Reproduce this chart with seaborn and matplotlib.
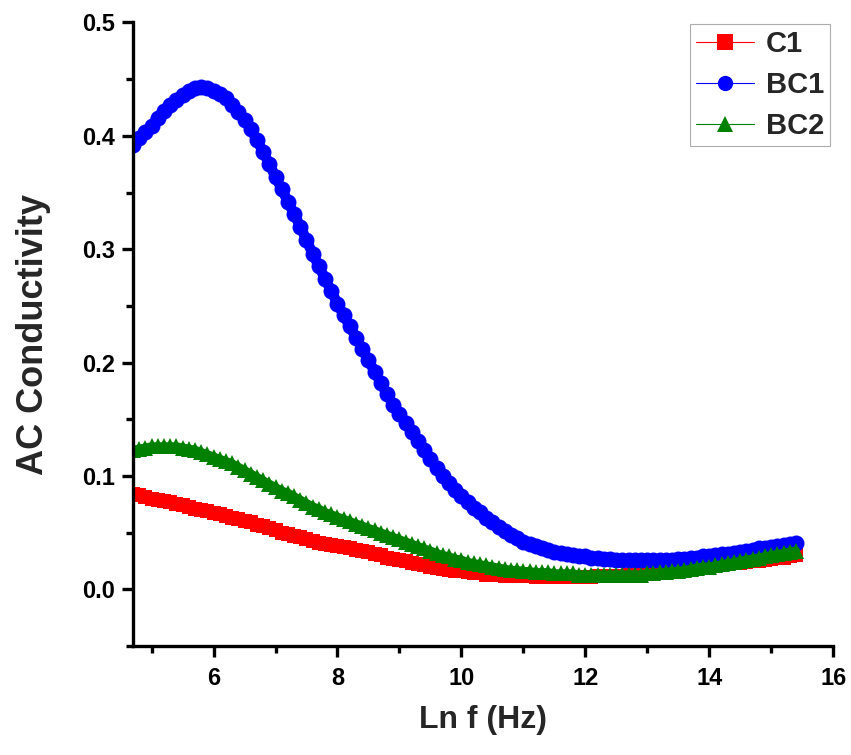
import matplotlib
matplotlib.use("Agg")
import matplotlib.pyplot as plt
import seaborn as sns
import pandas as pd
from matplotlib.ticker import MultipleLocator
from matplotlib.lines import Line2D

ln_f = [4.7, 4.8, 4.9, 5.0, 5.1, 5.2, 5.3, 5.4, 5.5, 5.6, 5.7, 5.8, 5.9, 6.0, 6.1, 6.2, 6.3, 6.4, 6.5, 6.6,
        6.7, 6.8, 6.9, 7.0, 7.1, 7.2, 7.3, 7.4, 7.5, 7.6, 7.7, 7.8, 7.9, 8.0, 8.1, 8.2, 8.3, 8.4, 8.5, 8.6,
        8.7, 8.8, 8.9, 9.0, 9.1, 9.2, 9.3, 9.4, 9.5, 9.6, 9.7, 9.8, 9.9, 10.0, 10.1, 10.2, 10.3, 10.4, 10.5, 10.6,
        10.7, 10.8, 10.9, 11.0, 11.1, 11.2, 11.3, 11.4, 11.5, 11.6, 11.7, 11.8, 11.9, 12.0, 12.1, 12.2, 12.3, 12.4, 12.5, 12.6,
        12.7, 12.8, 12.9, 13.0, 13.1, 13.2, 13.3, 13.4, 13.5, 13.6, 13.7, 13.8, 13.9, 14.0, 14.1, 14.2, 14.3, 14.4, 14.5, 14.6,
        14.7, 14.8, 14.9, 15.0, 15.1, 15.2, 15.3, 15.4]

c1 = [0.084, 0.083, 0.081, 0.080, 0.079, 0.078, 0.077, 0.075, 0.074, 0.073, 0.071, 0.070, 0.069, 0.067, 0.066, 0.065, 0.063, 0.062, 0.060, 0.059,
      0.057, 0.056, 0.054, 0.052, 0.050, 0.049, 0.047, 0.046, 0.044, 0.043, 0.041, 0.040, 0.039, 0.038, 0.037, 0.036, 0.035, 0.034, 0.033, 0.031,
      0.030, 0.028, 0.027, 0.026, 0.025, 0.023, 0.022, 0.021, 0.020, 0.019, 0.018, 0.017, 0.016, 0.016, 0.015, 0.014, 0.014, 0.013, 0.013, 0.013,
      0.012, 0.012, 0.012, 0.012, 0.012, 0.011, 0.011, 0.011, 0.011, 0.011, 0.011, 0.011, 0.011, 0.011, 0.011, 0.012, 0.012, 0.012, 0.012, 0.012,
      0.013, 0.013, 0.014, 0.014, 0.015, 0.015, 0.016, 0.016, 0.017, 0.017, 0.018, 0.019, 0.019, 0.020, 0.021, 0.021, 0.022, 0.023, 0.023, 0.024,
      0.025, 0.025, 0.026, 0.027, 0.028, 0.028, 0.029, 0.030]

bc1 = [0.392, 0.398, 0.403, 0.409, 0.416, 0.422, 0.427, 0.432, 0.436, 0.440, 0.442, 0.443, 0.442, 0.440, 0.437, 0.433, 0.427, 0.421, 0.414, 0.406,
       0.396, 0.386, 0.375, 0.364, 0.353, 0.342, 0.331, 0.320, 0.308, 0.296, 0.285, 0.274, 0.263, 0.252, 0.242, 0.232, 0.222, 0.212, 0.202, 0.192,
       0.182, 0.172, 0.163, 0.155, 0.147, 0.139, 0.131, 0.123, 0.115, 0.107, 0.100, 0.094, 0.088, 0.082, 0.077, 0.072, 0.068, 0.063, 0.059, 0.055,
       0.051, 0.048, 0.045, 0.042, 0.040, 0.038, 0.036, 0.035, 0.033, 0.032, 0.031, 0.030, 0.029, 0.029, 0.028, 0.028, 0.027, 0.027, 0.026, 0.026,
       0.026, 0.026, 0.026, 0.026, 0.026, 0.026, 0.026, 0.026, 0.027, 0.027, 0.028, 0.028, 0.029, 0.029, 0.030, 0.031, 0.031, 0.032, 0.033, 0.034,
       0.035, 0.036, 0.036, 0.037, 0.038, 0.039, 0.040, 0.041]

bc2 = [0.123, 0.124, 0.125, 0.126, 0.126, 0.126, 0.126, 0.126, 0.125, 0.124, 0.123, 0.121, 0.119, 0.117, 0.115, 0.113, 0.111, 0.108, 0.105, 0.102,
       0.099, 0.096, 0.093, 0.090, 0.087, 0.085, 0.082, 0.079, 0.076, 0.073, 0.071, 0.068, 0.066, 0.064, 0.062, 0.060, 0.058, 0.056, 0.054, 0.052,
       0.050, 0.048, 0.046, 0.044, 0.042, 0.040, 0.038, 0.036, 0.034, 0.032, 0.030, 0.029, 0.027, 0.026, 0.024, 0.023, 0.022, 0.021, 0.020, 0.019,
       0.018, 0.017, 0.017, 0.016, 0.016, 0.015, 0.015, 0.015, 0.014, 0.014, 0.014, 0.014, 0.013, 0.013, 0.013, 0.013, 0.013, 0.013, 0.013, 0.013,
       0.013, 0.013, 0.013, 0.014, 0.014, 0.015, 0.015, 0.016, 0.016, 0.017, 0.018, 0.019, 0.020, 0.020, 0.021, 0.022, 0.023, 0.024, 0.025, 0.026,
       0.027, 0.028, 0.029, 0.030, 0.031, 0.032, 0.033, 0.034]

series_names = ["C1", "BC1", "BC2"]
series_colors = ["#FF0000", "#0000FF", "#008000"]
series_markers = ["s", "o", "^"]
series_sizes = [10.5, 11.5, 12.0]
series_lw = [7.0, 7.5, 6.0]

sns.set_style("ticks")
plt.rcParams["font.family"] = ["Liberation Sans", "DejaVu Sans"]
plt.rcParams["font.weight"] = "bold"

fig = plt.figure(figsize=(8.51, 7.55), dpi=100)
ax = fig.add_axes([0.1563, 0.1444, 0.8227, 0.8258])

for name, vals, col, mk, ms, lw in zip(series_names, [c1, bc1, bc2], series_colors,
                                       series_markers, series_sizes, series_lw):
    df = pd.DataFrame({"x": ln_f, "y": vals})
    sns.lineplot(data=df, x="x", y="y", ax=ax, color=col, marker=mk, markersize=ms,
                 markeredgewidth=0, linewidth=lw, sort=False, legend=False)

ax.set_xlim(4.7, 16)
ax.set_ylim(-0.05, 0.5)
ax.xaxis.set_minor_locator(MultipleLocator(1))
ax.yaxis.set_minor_locator(MultipleLocator(0.05))
ax.set_xticks([6, 8, 10, 12, 14, 16])
ax.set_xticklabels(["6", "8", "10", "12", "14", "16"])
ax.set_yticks([0.0, 0.1, 0.2, 0.3, 0.4, 0.5])
ax.set_yticklabels(["0.0", "0.1", "0.2", "0.3", "0.4", "0.5"])

for s in ["top", "right"]:
    ax.spines[s].set_visible(False)
for s in ["left", "bottom"]:
    ax.spines[s].set_linewidth(2.4)
    ax.spines[s].set_color("black")

ax.tick_params(axis="both", which="major", direction="out", length=8, width=2.4,
               labelsize=17, colors="black")
ax.tick_params(axis="x", which="major", pad=7)
ax.tick_params(axis="y", which="major", pad=5)
ax.tick_params(axis="both", which="minor", direction="out", length=5, width=2.4, colors="black")
for lab in ax.get_xticklabels() + ax.get_yticklabels():
    lab.set_fontweight("bold")

ax.set_xlabel("Ln f (Hz)", fontsize=23, fontweight="bold", labelpad=11)
ax.set_ylabel("AC Conductivity", fontsize=26, fontweight="bold", labelpad=22)

handles = [Line2D([0], [0], color=c, marker=m, markersize=11, linewidth=0.8, markeredgewidth=0)
           for c, m in zip(series_colors, series_markers)]
leg = ax.legend(handles, series_names, loc="upper right", bbox_to_anchor=(0.995, 0.997),
                borderaxespad=0, frameon=True, fancybox=False, handlelength=2.0,
                prop={"weight": "bold", "size": 21}, labelspacing=0.45, borderpad=0.2,
                handletextpad=0.4)
leg.get_frame().set_edgecolor("#999999")
leg.get_frame().set_linewidth(0.8)

fig.savefig("out.png", dpi=100)
